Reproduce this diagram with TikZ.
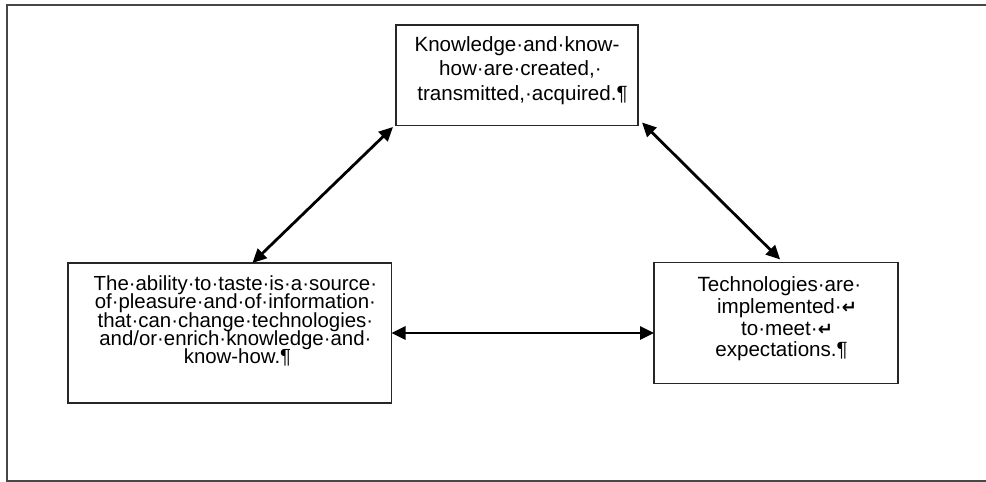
\documentclass[tikz,border=0pt]{standalone}
\usepackage{fontspec}
\setmainfont{Liberation Sans}
\newfontfamily\djv{DejaVu Sans}
\usetikzlibrary{arrows.meta,calc}
\newcommand{\hangmark}[1]{\rlap{#1}}
\newcommand{\brk}{{\djv\bfseries\fontsize{18}{18}\selectfont ↵}}
\begin{document}
\begin{tikzpicture}[x=1pt,y=-1pt,
  frame/.style={draw=black!72,line width=2pt},
  box/.style={draw=black!85,line width=1.4pt,inner sep=0pt,outer sep=0pt},
  txt/.style={inner sep=0pt,outer sep=0pt,anchor=north,align=center,text=black},
  link/.style={line width=2.8pt,{Triangle[length=14pt,width=13pt]}-{Triangle[length=14pt,width=13pt]}}]
\useasboundingbox (0,0) rectangle (986,482);
\draw[frame] (7,5) rectangle (992,481);
% boxes
\node[box,minimum width=242pt,minimum height=100.5pt] (tbox) at (517,75.25) {};
\node[box,minimum width=323.5pt,minimum height=140pt] (lbox) at (229.75,333) {};
\node[box,minimum width=244pt,minimum height=121pt] (rbox) at (776,323) {};
% texts
\node[txt,font={\fontsize{20.6}{24.2}\selectfont\lineskiplimit=-30pt}] (ttxt) at (517,36.7)
  {Knowledge·and·know-\\how·are·created,\hangmark{·}\\transmitted,·acquired.\hangmark{¶}};
\node[txt,font={\fontsize{20.4}{18.3}\selectfont\lineskiplimit=-30pt}] (ltxt) at (232,275.7)
  {The·ability·to·taste·is·a·source\hangmark{·}\\of·pleasure·and·of·information\hangmark{·}\\that·can·change·technologies\hangmark{·}\\and/or·enrich·knowledge·and\hangmark{·}\\know-how.\hangmark{¶}};
\node[txt,font={\fontsize{20.6}{21.7}\selectfont\lineskiplimit=-30pt}] (rtxt) at (776,276.7)
  {Technologies·are\hangmark{·}\\implemented\hangmark{·\brk}\\to·meet\hangmark{·\brk}\\expectations.\hangmark{¶}};
% connectors
\draw[link] ($(tbox.south west)+(-3,1.5)$) -- ($(lbox.north west)!0.57!(lbox.north east)$);
\draw[link] ($(tbox.south east)+(4,-3)$) -- ($(rbox.north west)!0.517!(rbox.north east)+(0,-3)$);
\draw[link] (lbox.east) -- (rbox.west |- lbox.east);
\end{tikzpicture}
\end{document}
